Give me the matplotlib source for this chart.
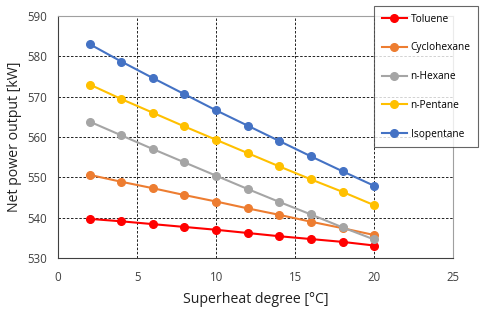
import matplotlib
matplotlib.use("Agg")
import matplotlib.pyplot as plt

superheat = [2, 4, 6, 8, 10, 12, 14, 16, 18, 20]
toluene = [539.7, 539.1, 538.4, 537.7, 537.0, 536.2, 535.4, 534.7, 534.0, 533.1]
cyclohexane = [550.6, 548.9, 547.3, 545.6, 544.0, 542.3, 540.7, 539.0, 537.4, 535.7]
n_hexane = [563.8, 560.4, 557.0, 553.7, 550.4, 547.1, 543.9, 540.8, 537.6, 534.6]
n_pentane = [573.0, 569.4, 566.0, 562.6, 559.3, 556.0, 552.7, 549.5, 546.4, 543.1]
isopentane = [583.0, 578.7, 574.6, 570.6, 566.6, 562.8, 559.0, 555.2, 551.5, 547.9]

series = [
    ("Toluene", toluene, "#FF0000"),
    ("Cyclohexane", cyclohexane, "#ED7D31"),
    ("n-Hexane", n_hexane, "#A5A5A5"),
    ("n-Pentane", n_pentane, "#FFC000"),
    ("Isopentane", isopentane, "#4472C4"),
]

plt.rcParams["font.family"] = ["Open Sans", "DejaVu Sans"]

fig = plt.figure(figsize=(4.8, 3.12), dpi=100)
ax = fig.add_axes([0.121, 0.173, 0.823, 0.776])

for name, vals, color in series:
    ax.plot(superheat, vals, color=color, marker="o", markersize=5.5,
            linewidth=1.5, label=name)

ax.set_xlim(0, 25)
ax.set_ylim(530, 590)
ax.set_xticks(range(0, 26, 5))
ax.set_yticks(range(530, 591, 10))
ax.grid(True, linestyle=(0, (3, 2)), color="black", linewidth=0.6)
ax.tick_params(length=0, labelsize=8.3, colors="#404040")
ax.tick_params(axis="x", pad=9)
ax.tick_params(axis="y", pad=8)

for side in ["top", "right"]:
    ax.spines[side].set_color("#A0A0A0")
for side in ["left", "bottom"]:
    ax.spines[side].set_color("#404040")

ax.set_xlabel("Superheat degree [°C]", fontsize=10.2, color="#202020",
              labelpad=6)
ax.set_ylabel("Net power output [kW]", fontsize=10.2, color="#202020")

leg = fig.legend(loc="upper left", bbox_to_anchor=(374 / 480, 1 - 6 / 312),
                 fontsize=7.3, frameon=True, fancybox=False,
                 labelspacing=1.75, handlelength=2.5, handletextpad=0.35,
                 borderpad=0.75, borderaxespad=0)
leg.get_frame().set_edgecolor("#404040")
leg.get_frame().set_linewidth(0.8)

fig.savefig("out.png", dpi=100)
